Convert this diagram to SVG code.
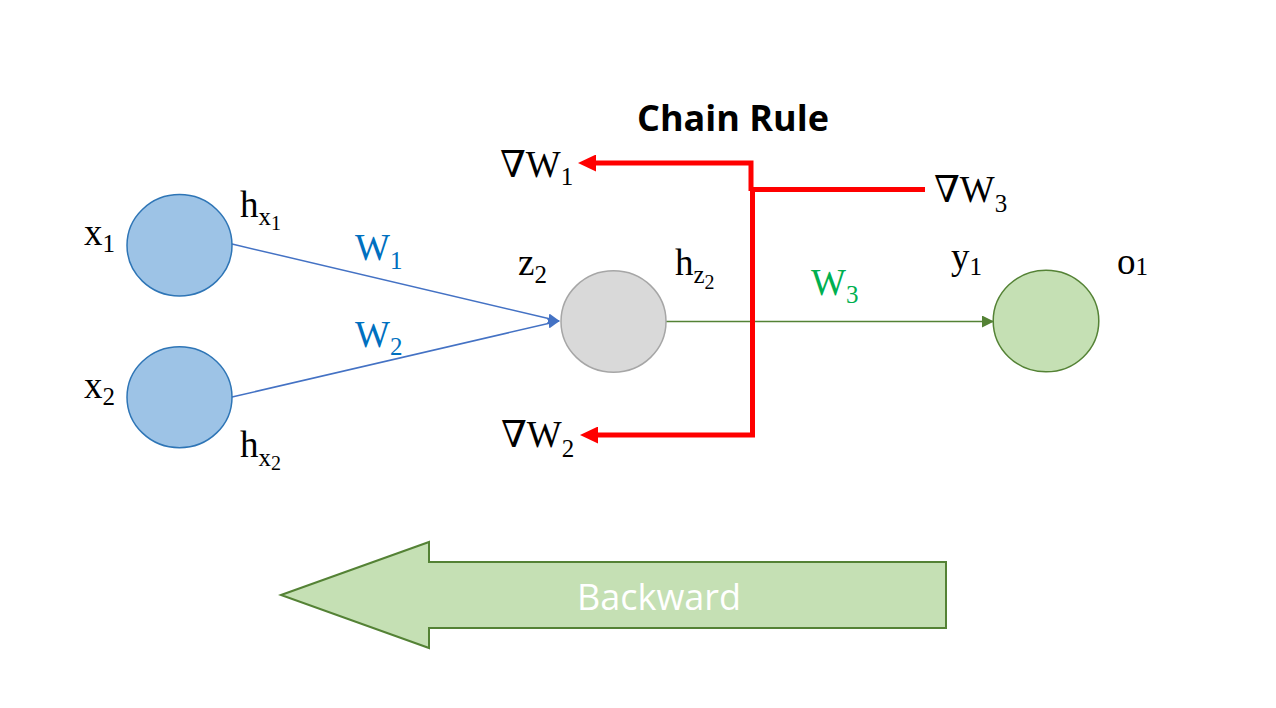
<svg xmlns="http://www.w3.org/2000/svg" width="1276" height="708" viewBox="0 0 1276 708">
<style>
.m{font-family:"Liberation Serif","DejaVu Serif",serif;font-size:37px;fill:#000}
.s{font-size:25px}
.ss{font-size:20px}
.blue{fill:#0070C0}
.green{fill:#00B050}
.title{font-family:"Open Sans","Noto Sans",sans-serif;font-weight:bold;font-size:36px;fill:#000}
.bk{font-family:"Open Sans","Noto Sans",sans-serif;font-size:36px;fill:#fff}
.inp{fill:#9DC3E6;stroke:#2E75B6;stroke-width:1.5}
.hid{fill:#D9D9D9;stroke:#A6A6A6;stroke-width:1.5}
.out{fill:#C5E0B4;stroke:#548235;stroke-width:1.5}
.red{fill:none;stroke:#FF0000;stroke-width:5}
</style>
<defs>
<marker id="ra" viewBox="0 0 18 17" refX="4" refY="8.5" markerWidth="18" markerHeight="17" markerUnits="userSpaceOnUse" orient="auto"><path d="M0,0 L18,8.5 L0,17 z" fill="#FF0000"/></marker>
<marker id="ba" viewBox="0 0 12 10" refX="11" refY="5" markerWidth="12" markerHeight="10" markerUnits="userSpaceOnUse" orient="auto"><path d="M0,0 L12,5 L0,10 z" fill="#4472C4"/></marker>
<marker id="ga" viewBox="0 0 12 12" refX="11" refY="6" markerWidth="12" markerHeight="12" markerUnits="userSpaceOnUse" orient="auto"><path d="M0,0 L12,6 L0,12 z" fill="#548235"/></marker>
</defs>
<rect width="1276" height="708" fill="#fff"/>

<g id="connectors">
<line x1="232" y1="244" x2="559" y2="321" stroke="#4472C4" stroke-width="1.5" marker-end="url(#ba)"/>
<line x1="232" y1="397" x2="559" y2="321" stroke="#4472C4" stroke-width="1.5" marker-end="url(#ba)"/>
<line x1="666" y1="321.5" x2="993" y2="321.5" stroke="#548235" stroke-width="1.5" marker-end="url(#ga)"/>
</g>

<g id="node-x1"><ellipse class="inp" cx="179.5" cy="245.3" rx="52.5" ry="50.7"/></g>
<g id="node-x2"><ellipse class="inp" cx="179.5" cy="397.2" rx="52.5" ry="50.5"/></g>
<g id="node-z2"><ellipse class="hid" cx="613.5" cy="321.5" rx="52.5" ry="50.7"/></g>
<g id="node-y1"><ellipse class="out" cx="1046" cy="321" rx="52.8" ry="50.8"/></g>

<g id="chain-rule">
<path class="red" d="M751,191 L751,163 L592,163" marker-end="url(#ra)"/>
<path class="red" d="M925,189.5 L752.5,189.5 L752.5,435 L594,435" marker-end="url(#ra)"/>
</g>

<g id="backward">
<polygon points="281,595 429,542 429,562 946,562 946,628 429,628 429,648" fill="#C5E0B4" stroke="#548235" stroke-width="2"/>
<text class="bk" x="659" y="610" text-anchor="middle">Backward</text>
</g>

<g id="labels">
<text class="title" x="733" y="131" text-anchor="middle">Chain Rule</text>
<text class="m" x="500" y="177">∇W<tspan class="s" dy="8">1</tspan></text>
<text class="m" x="501" y="447">∇W<tspan class="s" dy="10">2</tspan></text>
<text class="m" x="934" y="202">∇W<tspan class="s" dy="10">3</tspan></text>
<text class="m" x="84" y="245">x<tspan class="s" dy="7">1</tspan></text>
<text class="m" x="84" y="398">x<tspan class="s" dy="7">2</tspan></text>
<text class="m" x="240" y="217">h<tspan class="s" dy="8">x</tspan><tspan class="ss" dy="5">1</tspan></text>
<text class="m" x="240" y="457">h<tspan class="s" dy="9">x</tspan><tspan class="ss" dy="4">2</tspan></text>
<text class="m blue" x="355" y="260">W<tspan class="s" dy="9">1</tspan></text>
<text class="m blue" x="355" y="347">W<tspan class="s" dy="8">2</tspan></text>
<text class="m" x="518" y="275">z<tspan class="s" dy="8">2</tspan></text>
<text class="m" x="675" y="275">h<tspan class="s" dy="8">z</tspan><tspan class="ss" dy="6">2</tspan></text>
<text class="m green" x="811" y="295">W<tspan class="s" dy="8">3</tspan></text>
<text class="m" x="951" y="269">y<tspan class="s" dy="6">1</tspan></text>
<text class="m" x="1117" y="274">o<tspan class="s" dy="1">1</tspan></text>
</g>
</svg>
